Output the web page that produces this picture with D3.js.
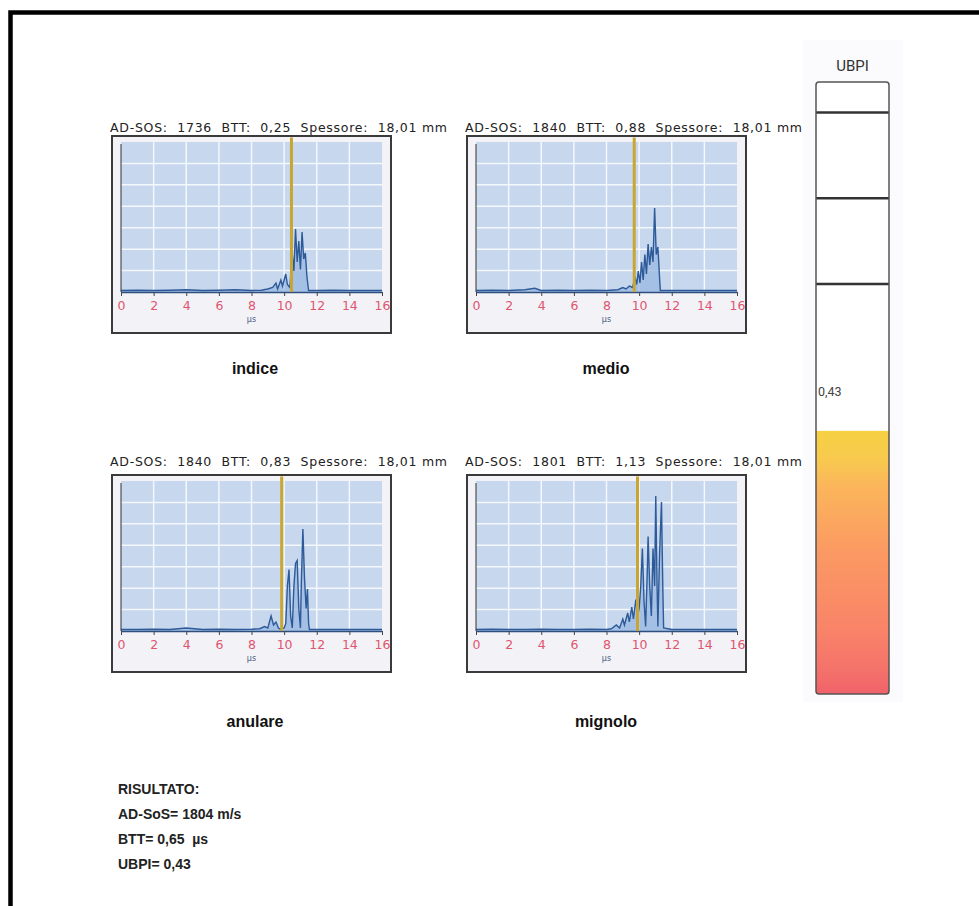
<!DOCTYPE html>
<html>
<head>
<meta charset="utf-8">
<script src="https://cdn.jsdelivr.net/npm/d3@7"></script>
<style>
  body { margin: 0; background: #fff; }
  svg { display: block; }
  text { white-space: pre; }
</style>
</head>
<body>
<script>
// ---- data ----
var panelNames = ['indice', 'medio', 'anulare', 'mignolo']
var adSos = [1736, 1840, 1840, 1801]
var bttValues = ['0,25', '0,88', '0,83', '1,13']
var spessore = ['18,01', '18,01', '18,01', '18,01']
var markerUs = [10.45, 9.7, 9.85, 9.9] // yellow marker position, µs
var xTicks = [0, 2, 4, 6, 8, 10, 12, 14, 16]

// signals: [time µs, relative amplitude]
var indiceSignal = [[0,0.01],[1,0.012],[2,0.01],[3,0.012],[4,0.015],[5,0.01],[6,0.012],[7,0.015],[8,0.01],[8.6,0.012],[9.0,0.02],[9.3,0.03],[9.5,0.06],[9.6,0.02],[9.8,0.08],[9.9,0.04],[10.1,0.12],[10.2,0.05],[10.35,0.03],[10.5,0.25],[10.6,0.14],[10.7,0.42],[10.8,0.2],[10.9,0.34],[11.0,0.15],[11.1,0.40],[11.2,0.22],[11.3,0.26],[11.4,0.1],[11.5,0.01],[12,0.01],[13,0.012],[14,0.01],[15,0.01],[16,0.01]]
var medioSignal = [[0,0.01],[1,0.012],[2,0.01],[3,0.015],[3.6,0.025],[4,0.01],[5,0.012],[6,0.01],[7,0.012],[8,0.01],[8.7,0.015],[9.0,0.03],[9.2,0.02],[9.4,0.04],[9.6,0.03],[9.75,0.1],[9.85,0.05],[9.95,0.14],[10.05,0.06],[10.15,0.2],[10.25,0.08],[10.35,0.25],[10.45,0.12],[10.55,0.32],[10.65,0.18],[10.75,0.3],[10.85,0.2],[10.95,0.56],[11.05,0.25],[11.15,0.3],[11.25,0.1],[11.3,0.01],[12,0.01],[13,0.01],[14,0.01],[15,0.01],[16,0.01]]
var anulareSignal = [[0,0.01],[1,0.01],[2,0.012],[3,0.01],[4,0.02],[5,0.01],[6,0.012],[7,0.01],[8,0.012],[8.5,0.015],[8.8,0.03],[9.0,0.02],[9.2,0.1],[9.35,0.04],[9.5,0.06],[9.65,0.02],[9.8,0.01],[10.0,0.02],[10.1,0.05],[10.2,0.3],[10.3,0.41],[10.4,0.1],[10.5,0.02],[10.6,0.3],[10.7,0.45],[10.8,0.47],[10.9,0.15],[11.0,0.02],[11.05,0.3],[11.15,0.68],[11.25,0.35],[11.35,0.15],[11.43,0.28],[11.5,0.05],[11.55,0.01],[12,0.01],[13,0.01],[14,0.01],[15,0.01],[16,0.01]]
var mignoloSignal = [[0,0.01],[1,0.012],[2,0.01],[3,0.01],[4,0.012],[5,0.01],[6,0.01],[7,0.012],[8,0.01],[8.3,0.015],[8.6,0.04],[8.8,0.02],[9.0,0.08],[9.1,0.04],[9.3,0.12],[9.4,0.06],[9.55,0.16],[9.65,0.08],[9.8,0.21],[9.9,0.1],[10.0,0.15],[10.1,0.3],[10.2,0.55],[10.3,0.2],[10.4,0.03],[10.5,0.4],[10.55,0.63],[10.65,0.3],[10.75,0.1],[10.85,0.55],[10.95,0.3],[11.02,0.9],[11.1,0.3],[11.15,0.03],[11.25,0.5],[11.37,0.86],[11.45,0.3],[11.5,0.02],[12,0.01],[13,0.01],[14,0.01],[15,0.01],[16,0.01]]
var signals = [indiceSignal, medioSignal, anulareSignal, mignoloSignal]

var ubpiValue = 0.43
var ubpiLabel = '0,43'
var ubpiThresholds = [0.67, 0.81, 0.95]
var resultLines = ['RISULTATO:', 'AD-SoS= 1804 m/s', 'BTT= 0,65  \u00b5s', 'UBPI= 0,43']

function plot_it() {
    var svgWidth = 979, svgHeight = 906
    var svg = d3.select('body').append('svg').attr('width', svgWidth).attr('height', svgHeight).attr('id', 'svg0')

    // outer black frame (only top and left edges visible)
    svg.append('path').attr('d', 'M10.5,906 V12.5 H979')
        .attr('fill', 'none').attr('stroke', '#000').attr('stroke-width', 4.5)

    // panel layout: frame position of each panel
    var frameW = 279, frameH = 197
    var framePos = [[112, 136], [467, 136], [112, 475], [467, 475]]
    var titlePos = [[110, 132], [465, 132], [110, 466], [465, 466]]
    var labelPos = [[255, 374], [606, 374], [255, 727], [606, 727]]

    framePos.forEach(function(pos, i) {
        var g = svg.append('g').attr('transform', 'translate(' + pos[0] + ',' + pos[1] + ')')
        g.append('rect').attr('x', 0).attr('y', 0).attr('width', frameW).attr('height', frameH)
            .attr('fill', '#f2f2f7').attr('stroke', '#3a3a3a').attr('stroke-width', 2)

        var plotLeft = 9, plotRight = 270, plotTop = 6, baseline = 156
        var x = d3.scaleLinear().domain([0, 16]).range([plotLeft, plotRight])
        var y = d3.scaleLinear().domain([0, 1]).range([baseline, plotTop])

        // blue grid area
        g.append('rect').attr('x', x(0)).attr('y', y(1))
            .attr('width', x(16) - x(0)).attr('height', y(0) - y(1))
            .attr('fill', '#c6d7ee')
        g.selectAll('.vgrid').data(xTicks.slice(1, -1)).enter().append('line')
            .attr('x1', d => x(d)).attr('x2', d => x(d)).attr('y1', y(1)).attr('y2', y(0))
            .attr('stroke', '#f4f7fc').attr('stroke-width', 1.5)
        g.selectAll('.hgrid').data(d3.range(1, 7).map(k => k / 7)).enter().append('line')
            .attr('x1', x(0)).attr('x2', x(16)).attr('y1', d => y(d)).attr('y2', d => y(d))
            .attr('stroke', '#f4f7fc').attr('stroke-width', 1.5)

        // signal
        var area = d3.area().x(d => x(d[0])).y0(y(0)).y1(d => y(d[1]))
        var line = d3.line().x(d => x(d[0])).y(d => y(d[1]))
        g.append('path').attr('d', area(signals[i])).attr('fill', '#9ab8e2').attr('fill-opacity', 0.75)
        g.append('path').attr('d', line(signals[i])).attr('fill', 'none')
            .attr('stroke', '#2d5a98').attr('stroke-width', 1.4)

        // left axis line
        g.append('line').attr('x1', x(0)).attr('x2', x(0)).attr('y1', plotTop + 2).attr('y2', baseline)
            .attr('stroke', '#333').attr('stroke-width', 1)

        // bottom axis
        var axis = g.append('g').attr('transform', 'translate(0,' + baseline + ')')
            .call(d3.axisBottom(x).tickValues(xTicks).tickSize(4).tickSizeOuter(0))
        axis.select('.domain').attr('stroke', '#2f4f7f').attr('stroke-width', 1.4)
        axis.selectAll('.tick line').attr('stroke', '#444')
        axis.selectAll('.tick text').attr('fill', '#e0566e').attr('font-size', '12.5px')
            .attr('font-family', 'DejaVu Sans, sans-serif').attr('dy', '0.85em')
        g.append('text').attr('x', x(8)).attr('y', baseline + 30).attr('text-anchor', 'middle')
            .attr('font-size', '8px').attr('font-family', 'DejaVu Sans, sans-serif').attr('fill', '#4a5a80')
            .text('\u00b5s')

        // yellow marker
        g.append('line').attr('x1', x(markerUs[i])).attr('x2', x(markerUs[i]))
            .attr('y1', 1.5).attr('y2', baseline)
            .attr('stroke', '#c9a532').attr('stroke-width', 3)

        // title
        svg.append('text').attr('x', titlePos[i][0]).attr('y', titlePos[i][1])
            .attr('font-size', '12.5px').attr('font-family', 'DejaVu Sans, Verdana, sans-serif')
            .attr('fill', '#222').attr('textLength', 337).attr('lengthAdjust', 'spacing')
            .text('AD-SOS:  ' + adSos[i] + '  BTT:  ' + bttValues[i] + '  Spessore:  ' + spessore[i] + ' mm')

        // finger label
        svg.append('text').attr('x', labelPos[i][0]).attr('y', labelPos[i][1])
            .attr('text-anchor', 'middle').attr('font-size', '16px').attr('font-weight', 'bold')
            .attr('font-family', 'Liberation Sans, Arial, sans-serif').attr('fill', '#111')
            .text(panelNames[i])
    })

    // UBPI bar
    var barX = 816, barW = 73, barTop = 82, barBottom = 694
    var ubpiScale = d3.scaleLinear().domain([0, 1]).range([barBottom, barTop])
    svg.append('rect').attr('x', 803).attr('y', 40).attr('width', 100).attr('height', 662).attr('fill', '#fbfbfd')
    svg.append('text').attr('x', barX + barW / 2).attr('y', 71).attr('text-anchor', 'middle')
        .attr('font-size', '15px').attr('font-family', 'Roboto, sans-serif').attr('fill', '#333').text('UBPI')

    var defs = svg.append('defs')
    var grad = defs.append('linearGradient').attr('id', 'ubpiGrad')
        .attr('x1', 0).attr('x2', 0).attr('y1', 0).attr('y2', 1)
    var gradStops = [[0, '#f6d143'], [0.12, '#f8c84f'], [0.2, '#fbb75a'], [0.45, '#fb9a62'], [0.75, '#f98468'], [0.9, '#f4736a'], [1, '#f1626a']]
    grad.selectAll('stop').data(gradStops).enter().append('stop')
        .attr('offset', d => d[0]).attr('stop-color', d => d[1])

    svg.append('rect').attr('x', barX).attr('y', barTop).attr('width', barW).attr('height', barBottom - barTop)
        .attr('fill', '#fff')
    svg.append('rect').attr('x', barX).attr('y', ubpiScale(ubpiValue))
        .attr('width', barW).attr('height', ubpiScale(0) - ubpiScale(ubpiValue))
        .attr('fill', 'url(#ubpiGrad)')
    svg.selectAll('.thresh').data(ubpiThresholds).enter().append('line')
        .attr('x1', barX).attr('x2', barX + barW).attr('y1', d => ubpiScale(d)).attr('y2', d => ubpiScale(d))
        .attr('stroke', '#333').attr('stroke-width', 2.5)
    svg.append('rect').attr('x', barX).attr('y', barTop).attr('width', barW).attr('height', barBottom - barTop)
        .attr('rx', 3).attr('fill', 'none').attr('stroke', '#555').attr('stroke-width', 1.5)
    svg.append('text').attr('x', barX + 2).attr('y', ubpiScale(ubpiValue) - 35)
        .attr('font-size', '12.5px').attr('font-family', 'Roboto, sans-serif').attr('fill', '#444')
        .text(ubpiLabel)

    // results block
    svg.selectAll('.result').data(resultLines).enter().append('text')
        .attr('x', 118).attr('y', (d, i) => 794 + i * 25)
        .attr('font-size', '14px').attr('font-weight', 'bold')
        .attr('font-family', 'Liberation Sans, Arial, sans-serif').attr('fill', '#222')
        .text(d => d)
}

plot_it()
</script>
</body>
</html>
